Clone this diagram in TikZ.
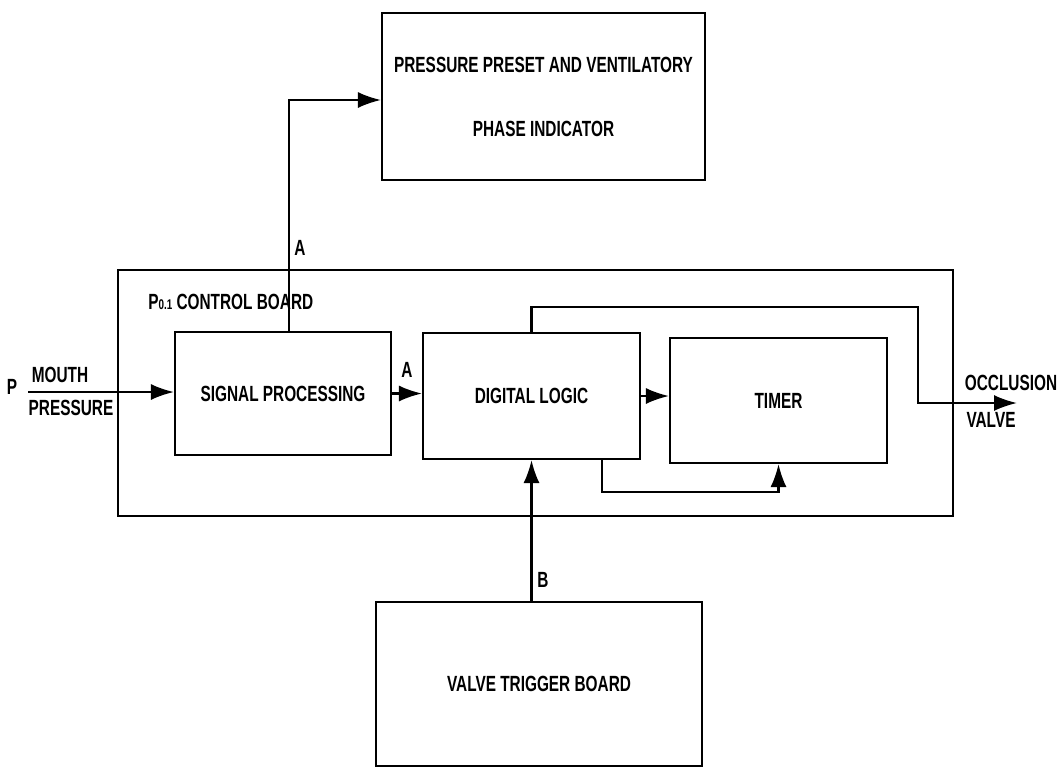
\documentclass[tikz,border=0pt]{standalone}
\usepackage{fontspec}
\setmainfont{Liberation Sans}[FakeStretch=0.7]
\usetikzlibrary{arrows.meta,calc}

\begin{document}
\begin{tikzpicture}[
    blk/.style={rectangle, draw, line width=1.2pt, align=center, font=\bfseries\fontsize{12.5}{15}\selectfont},
    lbl/.style={font=\bfseries\fontsize{12.5}{15}\selectfont, inner sep=0pt},
    flow/.style={-{Latex[length=4.6mm,width=3.2mm]}, line width=1.2pt}
]
\useasboundingbox (0,0) rectangle (21.28,-15.4);

% Blocks
\node[blk, minimum width=6.46cm, minimum height=3.34cm] (preset) at (10.87,-1.93) {PRESSURE PRESET AND VENTILATORY \\[0.75cm] PHASE INDICATOR};
\node[blk, minimum width=16.7cm, minimum height=4.92cm] (board) at (10.71,-7.86) {};
\node[lbl, anchor=west] (boardname) at (2.96,-6.04) {P{\fontsize{8}{9}\selectfont 0.1} CONTROL BOARD};
\node[blk, minimum width=4.32cm, minimum height=2.46cm] (sigproc) at (5.66,-7.87) {SIGNAL PROCESSING};
\node[blk, minimum width=4.34cm, minimum height=2.52cm] (logic) at (10.63,-7.92) {DIGITAL LOGIC};
\node[blk, minimum width=4.34cm, minimum height=2.5cm] (timer) at (15.57,-8.01) {TIMER};
\node[blk, minimum width=6.52cm, minimum height=3.28cm] (trigger) at (10.78,-13.68) {VALVE TRIGGER BOARD};

% Bends and free ends
\coordinate (pin) at (0.56,-7.84);
\coordinate (bendA) at (5.78,-2.0);
\coordinate (jog) at (18.36,-6.14);
\coordinate (occl) at (20.34,-8.06);
\coordinate (loop) at (12.04,-9.84);

% Labels
\node[lbl] (pname) at (0.24,-7.74) {P};
\node[lbl] (mouth) at (1.2,-7.5) {MOUTH};
\node[lbl] (pressure) at (1.42,-8.16) {PRESSURE};
\node[lbl] (aup) at (6.0,-4.96) {A};
\node[lbl] (amid) at (8.14,-7.4) {A};
\node[lbl] (bin) at (10.86,-11.6) {B};
\node[lbl] (occname) at (20.22,-7.66) {OCCLUSION};
\node[lbl] (valvename) at (19.82,-8.4) {VALVE};

% Connections
\draw[flow] (pin) -- (pin -| sigproc.west);
\draw[flow] (sigproc.north -| bendA) |- (preset.west |- bendA);
\draw[flow] (sigproc.east) -- (sigproc.east -| logic.west);
\draw[flow] (logic.east) -- (logic.east -| timer.west);
\draw[flow] (logic.north) |- (jog) |- (occl);
\draw[flow] (logic.south -| loop) -- (loop) -| (timer.south);
\draw[flow] (trigger.north -| logic.south) -- (logic.south);

\end{tikzpicture}
\end{document}
